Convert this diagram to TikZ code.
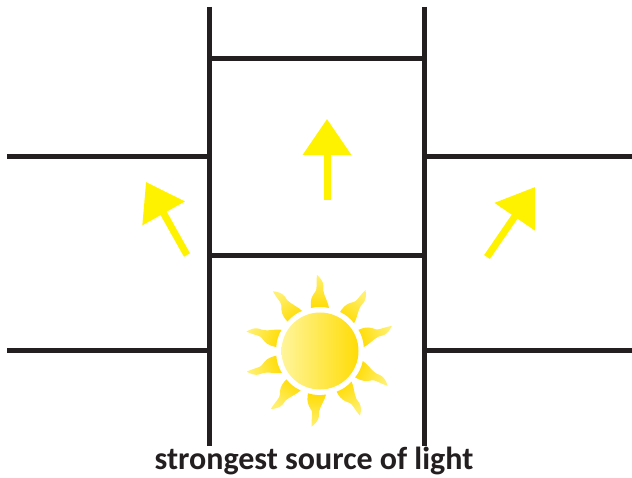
\documentclass[tikz,border=0pt]{standalone}
\usepackage{fontspec}
\setmainfont{Carlito}
\usetikzlibrary{arrows.meta}
\definecolor{wallblack}{HTML}{231F20}
\definecolor{lightyellow}{HTML}{FFF200}
\definecolor{sunyellow}{HTML}{FFDC05}
\definecolor{sunpale}{HTML}{FFF59A}
\definecolor{raytip}{HTML}{FFF070}
\tikzset{
  wall/.style={draw=wallblack, line width=5pt},
  lightarrow/.style={draw=lightyellow, line width=7pt, -{Triangle[length=36pt,width=47pt,fill=lightyellow]}},
}
\begin{document}
\begin{tikzpicture}[x=1pt, y=-1pt]
  \useasboundingbox (0,0) rectangle (632,478);
  % walls
  \coordinate (LT) at (209,7); \coordinate (LB) at (209,446);
  \coordinate (RT) at (424.5,7); \coordinate (RB) at (424.5,446);
  \draw[wall] (LT) -- (LB);
  \draw[wall] (RT) -- (RB);
  \draw[wall] (209,58.5) -- (424.5,58.5);
  \draw[wall] (209,255.5) -- (424.5,255.5);
  \draw[wall] (7,156.5) -- (207,156.5);
  \draw[wall] (7,350.5) -- (207,350.5);
  \draw[wall] (427,156.5) -- (632,156.5);
  \draw[wall] (427,350.5) -- (632,350.5);
  % arrows
  \coordinate (CA) at (327,200); \coordinate (CB) at (327,119);
  \coordinate (LA) at (187,255); \coordinate (LC) at (146,182);
  \coordinate (RA) at (487,257); \coordinate (RC) at (535,187);
  \draw[lightarrow] (CA) -- (CB);
  \draw[lightarrow] (LA) -- (LC);
  \draw[lightarrow] (RA) -- (RC);
  % sun
  \foreach \a/\s in {90/1,51/1,17/1,-25/-1,-56/-1,-94/-1,-128/-1,-162/-1,163/1,126/1} {
    \pgfmathsetmacro{\b}{\a-90}
    \begin{scope}[shift={(320,351)}, rotate=\a, yscale=\s]
      \shade[shading=axis, bottom color=sunyellow, top color=raytip, shading angle=\b]
        (43,-9) .. controls (47,-9.5) and (52,-9.5) .. (56,-7)
        .. controls (59,-5) and (60,-3.5) .. (64,-3.5)
        .. controls (68,-3.5) and (72,-3.5) .. (76,-3)
        .. controls (73,0.5) and (69,3.5) .. (65,3.5)
        .. controls (61,3.5) and (59,3) .. (56,4.5)
        .. controls (52,6) and (47,8.5) .. (43,9)
        .. controls (44.5,3) and (44.5,-3) .. (43,-9) -- cycle;
    \end{scope}
  }
  \shade[shading=axis, left color=sunpale, right color=sunyellow, shading angle=90] (320,351) circle (38.5);
  \node[font=\bfseries\fontsize{32pt}{36pt}\selectfont, text=wallblack] (caption) at (314,460.5) {strongest source of light};
\end{tikzpicture}
\end{document}
